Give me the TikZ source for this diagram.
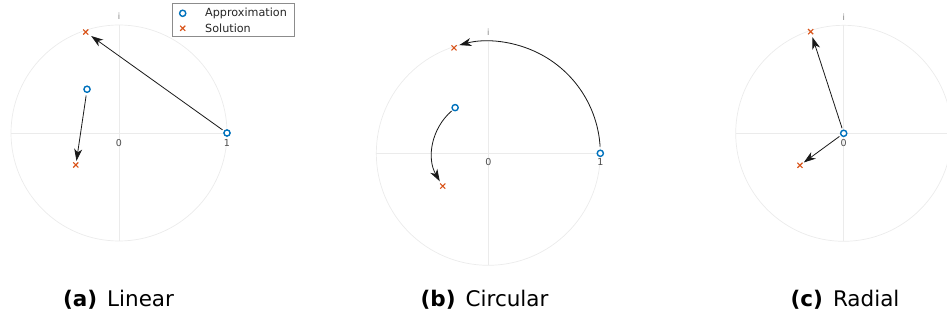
\documentclass[tikz,border=0pt]{standalone}
\usepackage{fontspec}
\newfontfamily\dejavu{DejaVu Sans}
\usetikzlibrary{arrows.meta,shapes.misc}
\definecolor{approx}{HTML}{0072BD}
\definecolor{sol}{HTML}{D95319}
\definecolor{gridc}{HTML}{EBEBEB}
\tikzset{
  gridline/.style={draw=gridc, line width=0.8pt},
  unitcirc/.style={draw=gridc, line width=0.7pt},
  approxmark/.style={circle, draw=approx, line width=1.4pt, minimum size=6.2pt, inner sep=0pt, fill=white},
  solmark/.style={cross out, draw=sol, line width=1.1pt, minimum size=4pt, inner sep=0pt},
  arr/.style={-{Stealth[length=12pt,width=8pt,inset=3.5pt]}, line width=0.8pt, draw=black!90},
  ticklab/.style={font=\dejavu\fontsize{9.5}{11}\selectfont, text=black!70, inner sep=0pt},
  ilab/.style={font=\dejavu\fontsize{8.5}{10}\selectfont, text=black!50, inner sep=0pt},
  legtext/.style={font=\dejavu\fontsize{11.2}{13}\selectfont, text=black!85, inner sep=0pt, anchor=west},
  capt/.style={font=\dejavu\fontsize{21.5}{26}\selectfont, inner sep=0pt, anchor=base}
}
\begin{document}
\begin{tikzpicture}[x=1pt,y=1pt]
\useasboundingbox (0,0) rectangle (947,-320);
\clip (0,0) rectangle (947,-320);
% ---------- panel (a)
\begin{scope}[shift={(119,-133)}, scale=108]
  \draw[gridline] (-1,0) -- (1,0);
  \draw[gridline] (0,-1) -- (0,1);
  \draw[unitcirc] (0,0) circle[radius=1];
  \node[ticklab] (a0) at (0,-0.09) {0};
  \node[ticklab] (a1) at (1,-0.09) {1};
  \node[ilab] (ai) at (0,1.077) {i};
  \node[approxmark] (aA1) at (1,0) {};
  \node[approxmark] (aA2) at (-0.296,0.405) {};
  \node[solmark] (aS1) at (-0.308,0.935) {};
  \node[solmark] (aS2) at (-0.400,-0.296) {};
  \draw[arr, shorten <=1.5pt, shorten >=3.5pt] (aA1) -- (aS1);
  \draw[arr, shorten <=2.5pt, shorten >=1.5pt] (aA2) -- (aS2);
\end{scope}
% legend
\node[draw=black!45, line width=0.8pt, fill=white, minimum width=121.7pt, minimum height=33.4pt, inner sep=0pt] (leg) at (233.2,-20) {};
\node[approxmark] (legA) at (182.7,-13.3) {};
\node[solmark] (legS) at (182.7,-28.3) {};
\node[legtext] (legAt) at (205,-13.3) {Approximation};
\node[legtext] (legSt) at (205,-28.3) {Solution};
% ---------- panel (b)
\begin{scope}[shift={(488.3,-153.3)}, scale=112]
  \draw[gridline] (-1,0) -- (1,0);
  \draw[gridline] (0,-1) -- (0,1);
  \draw[unitcirc] (0,0) circle[radius=1];
  \coordinate (bO) at (0,0);
  \node[ticklab] (b0) at (0,-0.08) {0};
  \node[ticklab] (b1) at (1,-0.08) {1};
  \node[ilab] (bi) at (0,1.08) {i};
  \node[approxmark] (bA1) at (1,0) {};
  \node[approxmark] (bA2) at (126:0.504) {};
  \node[solmark] (bS1) at (108:0.99) {};
  \node[solmark] (bS2) at (215.7:0.501) {};
  \draw[arr] (bO) ++(3.4:1) arc[start angle=3.4, end angle=105, radius=1];
  \draw[arr] (bO) ++(131:0.5) arc[start angle=131, end angle=210, radius=0.5];
\end{scope}
% ---------- panel (c)
\begin{scope}[shift={(843.7,-133.3)}, scale=108]
  \draw[gridline] (-1,0) -- (1,0);
  \draw[gridline] (0,-1) -- (0,1);
  \draw[unitcirc] (0,0) circle[radius=1];
  \node[ticklab] (c0) at (0,-0.09) {0};
  \node[ilab] (ci) at (0,1.077) {i};
  \node[approxmark] (cA) at (0,0) {};
  \node[solmark] (cS1) at (-0.306,0.941) {};
  \node[solmark] (cS2) at (-0.405,-0.296) {};
  \draw[arr, shorten <=1.5pt, shorten >=3pt] (cA) -- (cS1);
  \draw[arr, shorten <=1.5pt, shorten >=1.5pt] (cA) -- (cS2);
\end{scope}
% ---------- captions
\node[capt] (capa) at (118.5,-306) {\textbf{(a)}\hspace{10pt}Linear};
\node[capt] (capb) at (484.5,-306) {\textbf{(b)}\hspace{10pt}Circular};
\node[capt] (capc) at (845,-306) {\textbf{(c)}\hspace{10pt}Radial};
\end{tikzpicture}
\end{document}
